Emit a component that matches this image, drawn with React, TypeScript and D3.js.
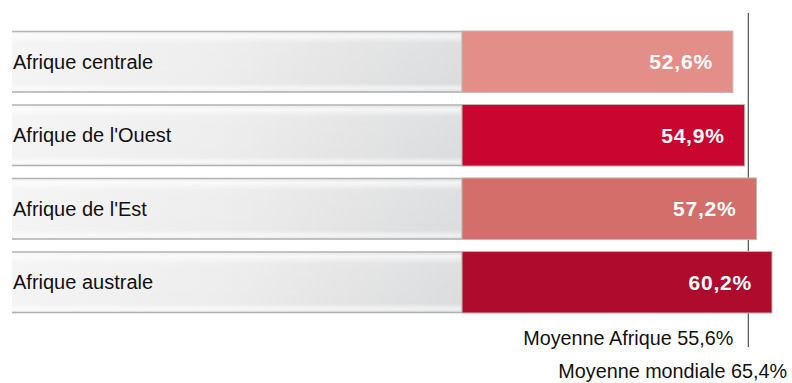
import React from "react";
import * as d3 from "d3";

const categories = ["Afrique centrale", "Afrique de l'Ouest", "Afrique de l'Est", "Afrique australe"];
const values = [52.6, 54.9, 57.2, 60.2];
const valueLabels = ["52,6%", "54,9%", "57,2%", "60,2%"];
const barColors = ["#E38E88", "#C9062F", "#D36E6B", "#AE0B2D"];
const africaAverage = 55.6;
const africaLabel = "Moyenne Afrique 55,6%";
const worldLabel = "Moyenne mondiale 65,4%";

const W = 792;
const H = 383;
const FONT = "'Liberation Sans', Arial, sans-serif";

export default function App() {
  const x = d3.scaleLinear().domain([0, 60.2]).range([462, 772]);
  const y = d3.scaleBand<string>().domain(categories).range([31, 313]).paddingInner(0.162);
  const bw = y.bandwidth();
  const labelX0 = 12;

  return (
    <svg width={W} height={H} style={{ position: "absolute", left: 0, top: 0, background: "#fff" }}>
      <defs>
        <linearGradient id="greyH" x1="0" x2="1" y1="0" y2="0">
          <stop offset="0" stopColor="#f4f4f4" />
          <stop offset="0.45" stopColor="#ededed" />
          <stop offset="0.7" stopColor="#e5e5e5" />
          <stop offset="1" stopColor="#dadcde" />
        </linearGradient>
        <linearGradient id="greyV" x1="0" x2="0" y1="0" y2="1">
          <stop offset="0" stopColor="#ffffff" stopOpacity="0.0" />
          <stop offset="0.08" stopColor="#ffffff" stopOpacity="0.7" />
          <stop offset="0.2" stopColor="#ffffff" stopOpacity="0.1" />
          <stop offset="0.85" stopColor="#ffffff" stopOpacity="0.0" />
          <stop offset="0.93" stopColor="#ffffff" stopOpacity="0.6" />
          <stop offset="1" stopColor="#ffffff" stopOpacity="0" />
        </linearGradient>
      </defs>
      <line x1={x(africaAverage)} x2={x(africaAverage)} y1={13} y2={347} stroke="#555" strokeWidth={1.2} />
      {categories.map((c, i) => {
        const top = y(c) as number;
        return (
          <g key={c}>
            <rect x={labelX0} y={top} width={x(0) - labelX0} height={bw} fill="url(#greyH)" />
            <rect x={labelX0} y={top} width={x(0) - labelX0} height={bw} fill="url(#greyV)" />
            <line x1={labelX0} x2={x(0)} y1={top + 0.5} y2={top + 0.5} stroke="#b4b4b4" strokeWidth={1.5} />
            <line x1={labelX0} x2={x(0)} y1={top + bw - 0.5} y2={top + bw - 0.5} stroke="#b0b0b0" strokeWidth={1.5} />
            <line x1={x(0) - 0.5} x2={x(0) - 0.5} y1={top + 1} y2={top + bw - 1} stroke="#cfe3cf" strokeWidth={1} />
            <rect x={x(0)} y={top} width={x(values[i]) - x(0)} height={bw} fill={barColors[i]} stroke="#c4b4b4" strokeWidth={1} />
            <text x={13} y={top + bw / 2} dy="0.36em" fontFamily={FONT} fontSize={20} fill="#111">{c}</text>
            <text x={x(values[i]) - 20} y={top + bw / 2} dy="0.36em" textAnchor="end" fontFamily={FONT} fontWeight="bold" fontSize={21} letterSpacing={0.8} fill="#fff">{valueLabels[i]}</text>
          </g>
        );
      })}
      <text x={x(africaAverage) - 15} y={345} textAnchor="end" fontFamily={FONT} fontSize={19.8} fill="#111">{africaLabel}</text>
      <text x={787} y={378} textAnchor="end" fontFamily={FONT} fontSize={19.8} fill="#111">{worldLabel}</text>
    </svg>
  );
}
